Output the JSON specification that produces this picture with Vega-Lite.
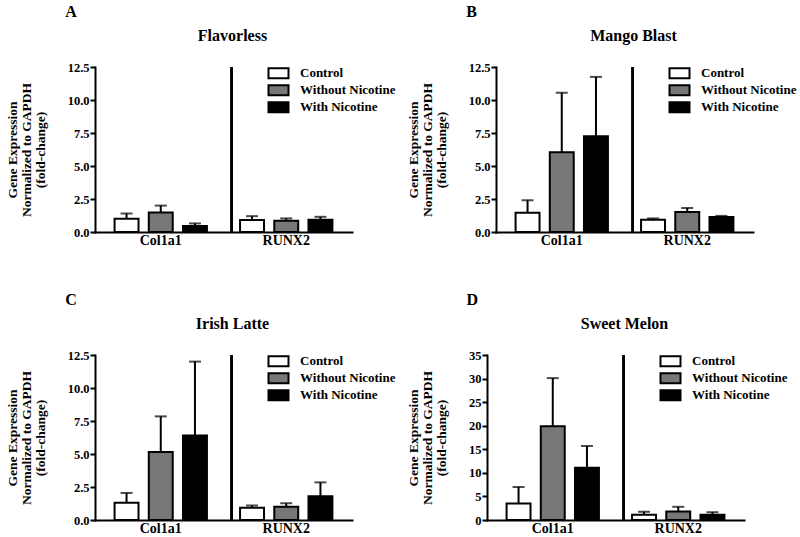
{
  "$schema": "https://vega.github.io/schema/vega-lite/v6.json",
  "padding": {"left": 5, "top": 4, "right": 0, "bottom": 0},
  "background": "white",
  "data": {"values": [
    {"flavor": "Flavorless", "gene": "Col1a1", "treatment": "Control", "mean": 1.0, "upper": 1.4},
    {"flavor": "Flavorless", "gene": "Col1a1", "treatment": "Without Nicotine", "mean": 1.47, "upper": 2.0},
    {"flavor": "Flavorless", "gene": "Col1a1", "treatment": "With Nicotine", "mean": 0.45, "upper": 0.65},
    {"flavor": "Flavorless", "gene": "RUNX2", "treatment": "Control", "mean": 0.9, "upper": 1.2},
    {"flavor": "Flavorless", "gene": "RUNX2", "treatment": "Without Nicotine", "mean": 0.85, "upper": 1.03},
    {"flavor": "Flavorless", "gene": "RUNX2", "treatment": "With Nicotine", "mean": 0.92, "upper": 1.15},
    {"flavor": "Mango Blast", "gene": "Col1a1", "treatment": "Control", "mean": 1.46, "upper": 2.4},
    {"flavor": "Mango Blast", "gene": "Col1a1", "treatment": "Without Nicotine", "mean": 6.05, "upper": 10.55},
    {"flavor": "Mango Blast", "gene": "Col1a1", "treatment": "With Nicotine", "mean": 7.25, "upper": 11.75},
    {"flavor": "Mango Blast", "gene": "RUNX2", "treatment": "Control", "mean": 0.92, "upper": 1.03},
    {"flavor": "Mango Blast", "gene": "RUNX2", "treatment": "Without Nicotine", "mean": 1.52, "upper": 1.82},
    {"flavor": "Mango Blast", "gene": "RUNX2", "treatment": "With Nicotine", "mean": 1.13, "upper": 1.22},
    {"flavor": "Irish Latte", "gene": "Col1a1", "treatment": "Control", "mean": 1.3, "upper": 2.05},
    {"flavor": "Irish Latte", "gene": "Col1a1", "treatment": "Without Nicotine", "mean": 5.15, "upper": 7.85},
    {"flavor": "Irish Latte", "gene": "Col1a1", "treatment": "With Nicotine", "mean": 6.4, "upper": 12.0},
    {"flavor": "Irish Latte", "gene": "RUNX2", "treatment": "Control", "mean": 0.93, "upper": 1.1},
    {"flavor": "Irish Latte", "gene": "RUNX2", "treatment": "Without Nicotine", "mean": 1.0, "upper": 1.27},
    {"flavor": "Irish Latte", "gene": "RUNX2", "treatment": "With Nicotine", "mean": 1.8, "upper": 2.85},
    {"flavor": "Sweet Melon", "gene": "Col1a1", "treatment": "Control", "mean": 3.5, "upper": 7.0},
    {"flavor": "Sweet Melon", "gene": "Col1a1", "treatment": "Without Nicotine", "mean": 19.9, "upper": 30.1},
    {"flavor": "Sweet Melon", "gene": "Col1a1", "treatment": "With Nicotine", "mean": 11.1, "upper": 15.7},
    {"flavor": "Sweet Melon", "gene": "RUNX2", "treatment": "Control", "mean": 1.1, "upper": 1.75},
    {"flavor": "Sweet Melon", "gene": "RUNX2", "treatment": "Without Nicotine", "mean": 1.8, "upper": 2.8},
    {"flavor": "Sweet Melon", "gene": "RUNX2", "treatment": "With Nicotine", "mean": 1.12, "upper": 1.65}
  ]},
  "vconcat": [
    {
      "hconcat": [
        {
          "title": {"text": "A", "anchor": "start", "frame": "bounds", "dx": 60, "fontSize": 16, "offset": 8},
          "vconcat": [{
            "width": 257, "height": 165,
            "title": {"text": "Flavorless", "dx": 9},
            "transform": [{"filter": "datum.flavor === 'Flavorless'"}],
            "encoding": {
              "x": {"field": "gene", "type": "nominal", "sort": ["Col1a1", "RUNX2"], "scale": {"paddingInner": 0.046, "paddingOuter": 0.047}},
              "xOffset": {"field": "treatment", "type": "nominal", "sort": ["Control", "Without Nicotine", "With Nicotine"], "scale": {"paddingInner": 0.3, "paddingOuter": 0.4}}
            },
            "layer": [
              {"mark": {"type": "rule", "color": "black", "strokeWidth": 2},
               "encoding": {
                 "y": {"field": "mean", "type": "quantitative", "scale": {"domain": [0, 12.5], "nice": false},
                       "axis": {"title": ["Gene Expression", "Normalized to GAPDH", "(fold-change)"], "values": [0, 2.5, 5, 7.5, 10, 12.5], "format": ".1f"}},
                 "y2": {"field": "upper"}}},
              {"mark": {"type": "tick", "color": "black", "thickness": 2, "size": 12},
               "encoding": {"y": {"field": "upper", "type": "quantitative",
                       "axis": {"title": ["Gene Expression", "Normalized to GAPDH", "(fold-change)"], "values": [0, 2.5, 5, 7.5, 10, 12.5], "format": ".1f"}}}},
              {"mark": {"type": "bar", "stroke": "black", "strokeWidth": 2},
               "encoding": {
                 "y": {"field": "mean", "type": "quantitative",
                       "axis": {"title": ["Gene Expression", "Normalized to GAPDH", "(fold-change)"], "values": [0, 2.5, 5, 7.5, 10, 12.5], "format": ".1f"}},
                 "fill": {"field": "treatment", "type": "nominal", "sort": ["Control", "Without Nicotine", "With Nicotine"],
                          "scale": {"domain": ["Control", "Without Nicotine", "With Nicotine"], "range": ["white", "#777777", "black"]},
                          "legend": {"orient": "none", "legendX": 172, "legendY": -2}}}},
              {"mark": {"type": "rule", "color": "black", "strokeWidth": 2},
               "encoding": {
                 "x": {"datum": "RUNX2", "bandPosition": 0.044},
                 "xOffset": null,
                 "y": {"datum": 0, "type": "quantitative",
                       "axis": {"title": ["Gene Expression", "Normalized to GAPDH", "(fold-change)"], "values": [0, 2.5, 5, 7.5, 10, 12.5], "format": ".1f"}},
                 "y2": {"datum": 12.5}}}
            ]
          }],
          "resolve": {"scale": {"fill": "independent"}, "legend": {"fill": "independent"}}
        },
        {
          "title": {"text": "B", "anchor": "start", "frame": "bounds", "dx": 60, "fontSize": 16, "offset": 8},
          "vconcat": [{
            "width": 257, "height": 165,
            "title": {"text": "Mango Blast", "dx": 9},
            "transform": [{"filter": "datum.flavor === 'Mango Blast'"}],
            "encoding": {
              "x": {"field": "gene", "type": "nominal", "sort": ["Col1a1", "RUNX2"], "scale": {"paddingInner": 0.046, "paddingOuter": 0.047}},
              "xOffset": {"field": "treatment", "type": "nominal", "sort": ["Control", "Without Nicotine", "With Nicotine"], "scale": {"paddingInner": 0.3, "paddingOuter": 0.4}}
            },
            "layer": [
              {"mark": {"type": "rule", "color": "black", "strokeWidth": 2},
               "encoding": {
                 "y": {"field": "mean", "type": "quantitative", "scale": {"domain": [0, 12.5], "nice": false},
                       "axis": {"title": ["Gene Expression", "Normalized to GAPDH", "(fold-change)"], "values": [0, 2.5, 5, 7.5, 10, 12.5], "format": ".1f"}},
                 "y2": {"field": "upper"}}},
              {"mark": {"type": "tick", "color": "black", "thickness": 2, "size": 12},
               "encoding": {"y": {"field": "upper", "type": "quantitative",
                       "axis": {"title": ["Gene Expression", "Normalized to GAPDH", "(fold-change)"], "values": [0, 2.5, 5, 7.5, 10, 12.5], "format": ".1f"}}}},
              {"mark": {"type": "bar", "stroke": "black", "strokeWidth": 2},
               "encoding": {
                 "y": {"field": "mean", "type": "quantitative",
                       "axis": {"title": ["Gene Expression", "Normalized to GAPDH", "(fold-change)"], "values": [0, 2.5, 5, 7.5, 10, 12.5], "format": ".1f"}},
                 "fill": {"field": "treatment", "type": "nominal", "sort": ["Control", "Without Nicotine", "With Nicotine"],
                          "scale": {"domain": ["Control", "Without Nicotine", "With Nicotine"], "range": ["white", "#777777", "black"]},
                          "legend": {"orient": "none", "legendX": 172, "legendY": -2}}}},
              {"mark": {"type": "rule", "color": "black", "strokeWidth": 2},
               "encoding": {
                 "x": {"datum": "RUNX2", "bandPosition": 0.044},
                 "xOffset": null,
                 "y": {"datum": 0, "type": "quantitative",
                       "axis": {"title": ["Gene Expression", "Normalized to GAPDH", "(fold-change)"], "values": [0, 2.5, 5, 7.5, 10, 12.5], "format": ".1f"}},
                 "y2": {"datum": 12.5}}}
            ]
          }],
          "resolve": {"scale": {"fill": "independent"}, "legend": {"fill": "independent"}}
        }
      ],
      "spacing": 10,
      "resolve": {"scale": {"fill": "independent"}, "legend": {"fill": "independent"}}
    },
    {
      "hconcat": [
        {
          "title": {"text": "C", "anchor": "start", "frame": "bounds", "dx": 60, "fontSize": 16, "offset": 8},
          "vconcat": [{
            "width": 257, "height": 165,
            "title": {"text": "Irish Latte", "dx": 9},
            "transform": [{"filter": "datum.flavor === 'Irish Latte'"}],
            "encoding": {
              "x": {"field": "gene", "type": "nominal", "sort": ["Col1a1", "RUNX2"], "scale": {"paddingInner": 0.046, "paddingOuter": 0.047}},
              "xOffset": {"field": "treatment", "type": "nominal", "sort": ["Control", "Without Nicotine", "With Nicotine"], "scale": {"paddingInner": 0.3, "paddingOuter": 0.4}}
            },
            "layer": [
              {"mark": {"type": "rule", "color": "black", "strokeWidth": 2},
               "encoding": {
                 "y": {"field": "mean", "type": "quantitative", "scale": {"domain": [0, 12.5], "nice": false},
                       "axis": {"title": ["Gene Expression", "Normalized to GAPDH", "(fold-change)"], "values": [0, 2.5, 5, 7.5, 10, 12.5], "format": ".1f"}},
                 "y2": {"field": "upper"}}},
              {"mark": {"type": "tick", "color": "black", "thickness": 2, "size": 12},
               "encoding": {"y": {"field": "upper", "type": "quantitative",
                       "axis": {"title": ["Gene Expression", "Normalized to GAPDH", "(fold-change)"], "values": [0, 2.5, 5, 7.5, 10, 12.5], "format": ".1f"}}}},
              {"mark": {"type": "bar", "stroke": "black", "strokeWidth": 2},
               "encoding": {
                 "y": {"field": "mean", "type": "quantitative",
                       "axis": {"title": ["Gene Expression", "Normalized to GAPDH", "(fold-change)"], "values": [0, 2.5, 5, 7.5, 10, 12.5], "format": ".1f"}},
                 "fill": {"field": "treatment", "type": "nominal", "sort": ["Control", "Without Nicotine", "With Nicotine"],
                          "scale": {"domain": ["Control", "Without Nicotine", "With Nicotine"], "range": ["white", "#777777", "black"]},
                          "legend": {"orient": "none", "legendX": 172, "legendY": -2}}}},
              {"mark": {"type": "rule", "color": "black", "strokeWidth": 2},
               "encoding": {
                 "x": {"datum": "RUNX2", "bandPosition": 0.044},
                 "xOffset": null,
                 "y": {"datum": 0, "type": "quantitative",
                       "axis": {"title": ["Gene Expression", "Normalized to GAPDH", "(fold-change)"], "values": [0, 2.5, 5, 7.5, 10, 12.5], "format": ".1f"}},
                 "y2": {"datum": 12.5}}}
            ]
          }],
          "resolve": {"scale": {"fill": "independent"}, "legend": {"fill": "independent"}}
        },
        {
          "title": {"text": "D", "anchor": "start", "frame": "bounds", "dx": 60, "fontSize": 16, "offset": 8},
          "vconcat": [{
            "width": 257, "height": 165,
            "title": {"text": "Sweet Melon", "dx": 9},
            "transform": [{"filter": "datum.flavor === 'Sweet Melon'"}],
            "encoding": {
              "x": {"field": "gene", "type": "nominal", "sort": ["Col1a1", "RUNX2"], "scale": {"paddingInner": 0.046, "paddingOuter": 0.047}},
              "xOffset": {"field": "treatment", "type": "nominal", "sort": ["Control", "Without Nicotine", "With Nicotine"], "scale": {"paddingInner": 0.3, "paddingOuter": 0.4}}
            },
            "layer": [
              {"mark": {"type": "rule", "color": "black", "strokeWidth": 2},
               "encoding": {
                 "y": {"field": "mean", "type": "quantitative", "scale": {"domain": [0, 35], "nice": false},
                       "axis": {"title": ["Gene Expression", "Normalized to GAPDH", "(fold-change)"], "values": [0, 5, 10, 15, 20, 25, 30, 35], "format": "d"}},
                 "y2": {"field": "upper"}}},
              {"mark": {"type": "tick", "color": "black", "thickness": 2, "size": 12},
               "encoding": {"y": {"field": "upper", "type": "quantitative",
                       "axis": {"title": ["Gene Expression", "Normalized to GAPDH", "(fold-change)"], "values": [0, 5, 10, 15, 20, 25, 30, 35], "format": "d"}}}},
              {"mark": {"type": "bar", "stroke": "black", "strokeWidth": 2},
               "encoding": {
                 "y": {"field": "mean", "type": "quantitative",
                       "axis": {"title": ["Gene Expression", "Normalized to GAPDH", "(fold-change)"], "values": [0, 5, 10, 15, 20, 25, 30, 35], "format": "d"}},
                 "fill": {"field": "treatment", "type": "nominal", "sort": ["Control", "Without Nicotine", "With Nicotine"],
                          "scale": {"domain": ["Control", "Without Nicotine", "With Nicotine"], "range": ["white", "#777777", "black"]},
                          "legend": {"orient": "none", "legendX": 172, "legendY": -2}}}},
              {"mark": {"type": "rule", "color": "black", "strokeWidth": 2},
               "encoding": {
                 "x": {"datum": "RUNX2", "bandPosition": 0.044},
                 "xOffset": null,
                 "y": {"datum": 0, "type": "quantitative",
                       "axis": {"title": ["Gene Expression", "Normalized to GAPDH", "(fold-change)"], "values": [0, 5, 10, 15, 20, 25, 30, 35], "format": "d"}},
                 "y2": {"datum": 35}}}
            ]
          }],
          "resolve": {"scale": {"fill": "independent"}, "legend": {"fill": "independent"}}
        }
      ],
      "spacing": 10,
      "resolve": {"scale": {"fill": "independent"}, "legend": {"fill": "independent"}}
    }
  ],
  "spacing": 45,
  "resolve": {"scale": {"fill": "independent"}, "legend": {"fill": "independent"}},
  "config": {
    "font": "Liberation Serif",
    "view": {"stroke": null},
    "title": {"font": "Liberation Serif", "fontWeight": "bold", "fontSize": 16, "color": "black", "offset": 17},
    "axis": {"grid": false, "domainColor": "black", "domainWidth": 2, "tickColor": "black", "tickWidth": 2,
             "labelFont": "Liberation Serif", "labelFontWeight": "bold", "labelColor": "black",
             "labelOverlap": false, "labelFlush": false, "labelBound": false,
             "titleFont": "Liberation Serif", "titleFontWeight": "bold", "titleColor": "black"},
    "axisX": {"ticks": false, "labelFontSize": 14, "labelAngle": 0, "title": null, "labelPadding": 1, "domainCap": "square"},
    "axisY": {"labelFontSize": 12.5, "tickSize": 5, "labelPadding": 1,
              "titleFontSize": 13.5, "titleLineHeight": 14, "titlePadding": 20, "domainCap": "square"},
    "legend": {"title": null, "symbolType": "M-1,-1H3V1H-1Z", "symbolSize": 100, "symbolStrokeColor": "black", "symbolStrokeWidth": 2,
               "labelFont": "Liberation Serif", "labelFontWeight": "bold", "labelFontSize": 13, "labelColor": "black",
               "labelOffset": 20, "rowPadding": 0, "clipHeight": 16.5, "padding": 0}
  }
}
